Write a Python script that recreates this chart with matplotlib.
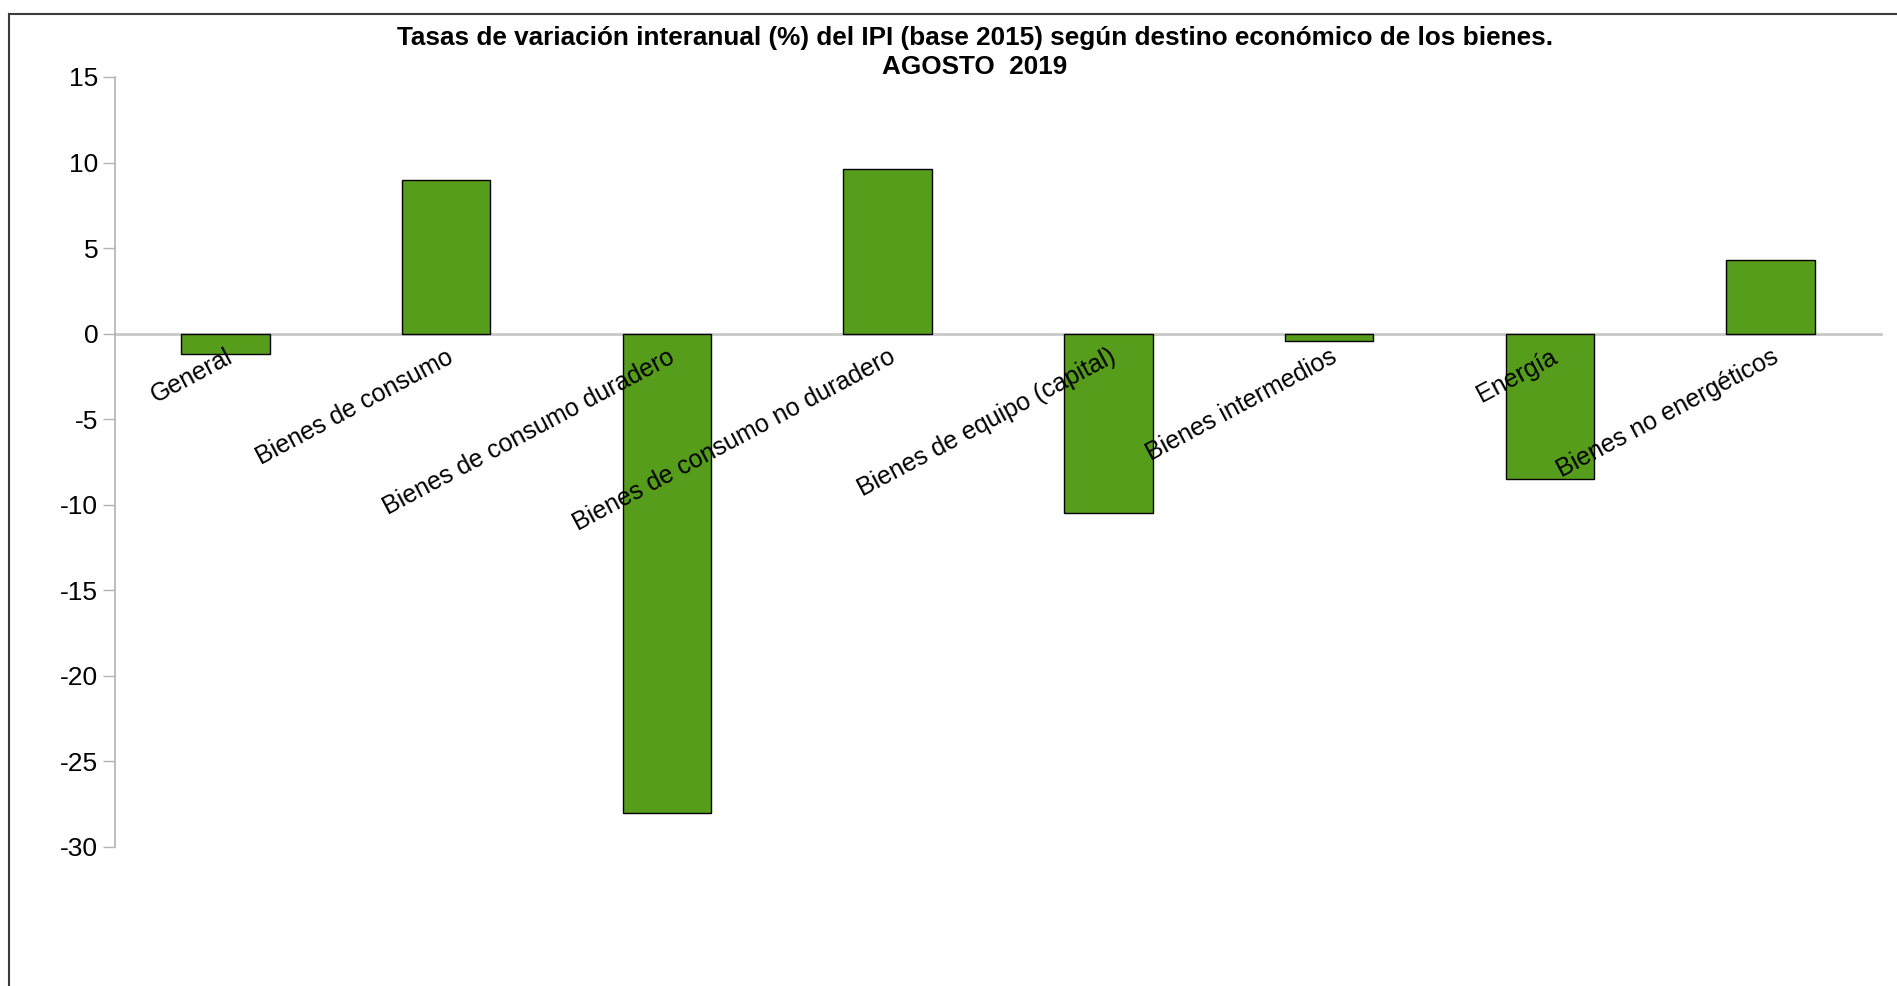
import matplotlib
matplotlib.use("Agg")
import matplotlib.pyplot as plt
from matplotlib.lines import Line2D

categories = ["General", "Bienes de consumo", "Bienes de consumo duradero",
              "Bienes de consumo no duradero", "Bienes de equipo (capital)",
              "Bienes intermedios", "Energía", "Bienes no energéticos"]
values = [-1.2, 9.0, -28.0, 9.6, -10.5, -0.4, -8.5, 4.3]
yticks = [15, 10, 5, 0, -5, -10, -15, -20, -25, -30]
title_line1 = "Tasas de variación interanual (%) del IPI (base 2015) según destino económico de los bienes."
title_line2 = "AGOSTO  2019"

plt.rcParams['font.family'] = ["Liberation Sans", "DejaVu Sans"]

W, H = 1897, 986
fig = plt.figure(figsize=(W / 100, H / 100), dpi=100)
fig.patch.set_facecolor("white")

left, right, top, bottom = 115, 1881, 77, 847
ax = fig.add_axes([left / W, 1 - bottom / H, (right - left) / W, (bottom - top) / H])

x = list(range(len(categories)))
ax.bar(x, values, width=0.4, color="#579D1C", edgecolor="#000000", linewidth=1.0, zorder=1)

ax.set_xlim(-0.5, len(categories) - 0.5)
ax.set_ylim(-30, 15)
ax.set_yticks(yticks)
ax.set_yticklabels([str(t) for t in yticks], fontsize=19)
ax.tick_params(axis="y", length=9, width=1, color="#b3b3b3", pad=3)

for s in ["top", "right"]:
    ax.spines[s].set_visible(False)
ax.spines["left"].set_color("#b3b3b3")
ax.spines["left"].set_linewidth(1.2)
ax.spines["bottom"].set_position(("data", 0))
ax.spines["bottom"].set_color("#c8c8c8")
ax.spines["bottom"].set_linewidth(2.0)
ax.spines["bottom"].set_zorder(0.5)

ax.set_xticks(x)
ax.set_xticklabels(categories, fontsize=18, rotation=28, ha="right", va="top",
                   rotation_mode="anchor")
ax.tick_params(axis="x", length=0, pad=8)
ax.xaxis.set_zorder(5)

fig.text(975 / W, 1 - 38 / H, title_line1, ha="center", va="center",
         fontsize=18.8, fontweight="bold")
fig.text(975 / W, 1 - 67 / H, title_line2, ha="center", va="center",
         fontsize=18.8, fontweight="bold")

# outer chart frame (top and left edges visible)
fig.add_artist(Line2D([9 / W, 1.0], [1 - 14 / H, 1 - 14 / H], transform=fig.transFigure,
                      color="#3c3c3c", linewidth=1.5))
fig.add_artist(Line2D([9 / W, 9 / W], [0.0, 1 - 14 / H], transform=fig.transFigure,
                      color="#3c3c3c", linewidth=1.5))

fig.savefig("out.png", dpi=100, facecolor="white")
